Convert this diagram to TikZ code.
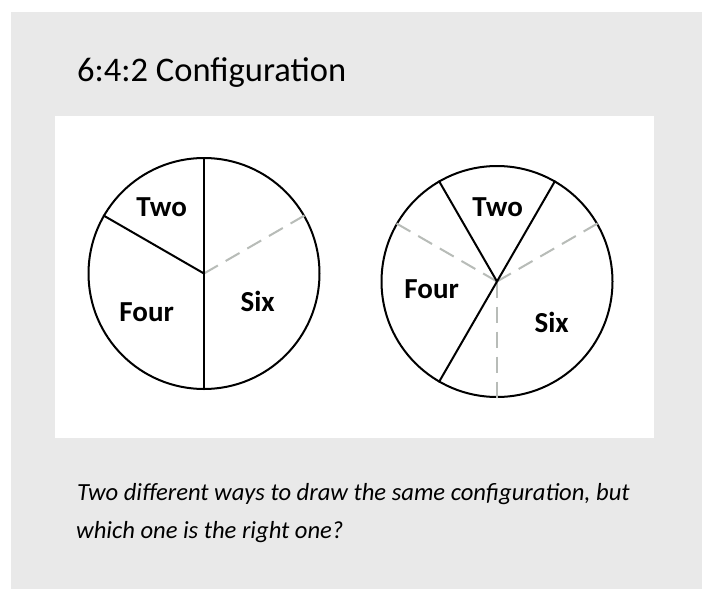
\documentclass[tikz,border=0pt]{standalone}
\usepackage{fontspec}
\setmainfont{Carlito}
\definecolor{bggray}{RGB}{233,233,233}
\definecolor{dashgray}{RGB}{184,188,184}
\begin{document}
\begin{tikzpicture}[x=1pt,y=-1pt,
  pie/.style={circle,draw=black,line width=2pt,minimum size=231pt,inner sep=0pt,fill=white},
  cut/.style={draw=black,line width=2pt},
  guide/.style={draw=dashgray,line width=2pt,dash pattern=on 16pt off 9pt},
  lab/.style={font=\fontsize{29}{29}\selectfont\bfseries,inner sep=0pt,text depth=0pt},
  captext/.style={font=\fontsize{24.6}{30}\selectfont\itshape,inner sep=0pt,anchor=base west},
]
\useasboundingbox (0,0) rectangle (702,589);
\fill[bggray] (11,12) rectangle (702,589);
\fill[white] (55,116) rectangle (654,438);

\node[font=\fontsize{34.5}{40}\selectfont,inner sep=0pt,anchor=base west] (title) at (77,81.5) {6:4:2 Configuration};

% left pie
\node[pie] (L) at (204,273.5) {};
\draw[guide] (L.center) -- (L.30);
\draw[cut] (L.90) -- (L.270);
\draw[cut] (L.center) -- (L.150);
\node[lab] (L2) at (161.7,206.7) {Two};
\node[lab] (L4) at (146.7,311.7) {Four};
\node[lab] (L6) at (257.7,301.7) {Six};

% right pie
\node[pie] (R) at (497,281.5) {};
\draw[guide] (R.center) -- (R.30);
\draw[guide] (R.center) -- (R.150);
\draw[guide] (R.center) -- (R.270);
\draw[cut] (R.center) -- (R.60);
\draw[cut] (R.center) -- (R.120);
\draw[cut] (R.center) -- (R.240);
\node[lab] (R2) at (497.7,206.7) {Two};
\node[lab] (R4) at (431.7,289.3) {Four};
\node[lab] (R6) at (551.7,322.3) {Six};

\node[captext] (c1) at (77,500) {Two different ways to draw the same configuration, but};
\node[captext] (c2) at (76,538) {which one is the right one?};
\end{tikzpicture}
\end{document}
